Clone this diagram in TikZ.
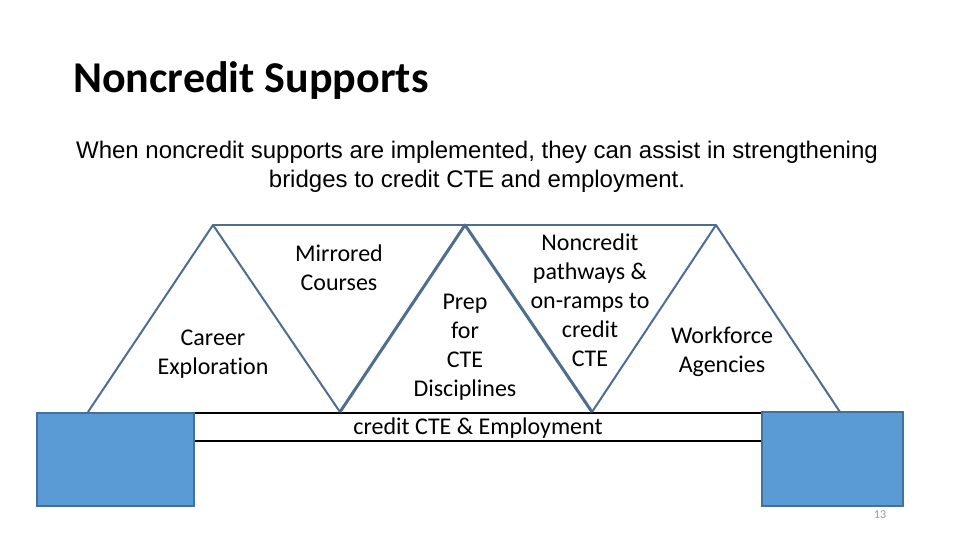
\documentclass[tikz,border=0pt]{standalone}
\usepackage{fontspec}
\setmainfont{Carlito}[Ligatures=NoCommon]
\newfontfamily\arialfont{Liberation Sans}
\definecolor{trusslinie}{HTML}{4E6E8F}
\definecolor{pfeilerblau}{HTML}{5B9BD5}
\definecolor{pfeilerrand}{HTML}{41719C}
\tikzset{
  truss/.style={draw=trusslinie,line width=2pt,line join=round},
  pier/.style={fill=pfeilerblau,draw=pfeilerrand,line width=2pt},
  label/.style={align=center,font=\fontsize{24}{29}\selectfont,inner sep=0pt}
}
\begin{document}
\begin{tikzpicture}[x=1pt,y=-1pt]
\useasboundingbox[fill=white] (0,0) rectangle (960,540);
%
% Titel und Untertitel
%
\node[anchor=west,font=\fontsize{44}{48}\selectfont\bfseries,inner sep=0pt] (titel) at (73,81) {Noncredit Supports};
\node[align=center,font=\arialfont\fontsize{24}{29}\selectfont,inner sep=0pt] (untertitel) at (477,167)
  {When noncredit supports are implemented, they can assist in strengthening\\bridges to credit CTE and employment.};
%
% --- Fahrbahn und Pfeiler ---
\draw[black,line width=2pt,fill=white] (194,413) rectangle (762,441);
\draw[pier] (37,413) rectangle (194,506);
\draw[pier] (762,412) rectangle (903,506);
\node[font=\fontsize{24}{29}\selectfont,inner sep=0pt] (fahrbahn) at (478,428) {credit CTE \& Employment};
%
% --- Fachwerk ---
\draw[truss] (213,225) -- (716,225);
\draw[truss] (88,412) -- (213,225) -- (340,412);
\draw[truss,line width=3pt] (340,412) -- (465,225) -- (592,412);
\draw[truss] (592,412) -- (716,225) -- (840,412);
%
% Beschriftungen der Felder
\node[label] (karriere) at (213,354) {Career\\Exploration};
\node[label] (spiegel) at (339,268) {Mirrored\\Courses};
\node[label] (vorb) at (465,347) {Prep\\for\\CTE\\Disciplines};
\node[label] (pfade) at (590,300) {Noncredit\\pathways \&\\on-ramps to\\credit\\CTE};
\node[label] (arbeit) at (722,352) {Workforce\\Agencies};
%
% Seitenzahl
\node[text=gray!80,font=\fontsize{12}{14}\selectfont,inner sep=0pt] (seite) at (880,515) {13};
\end{tikzpicture}
\end{document}
